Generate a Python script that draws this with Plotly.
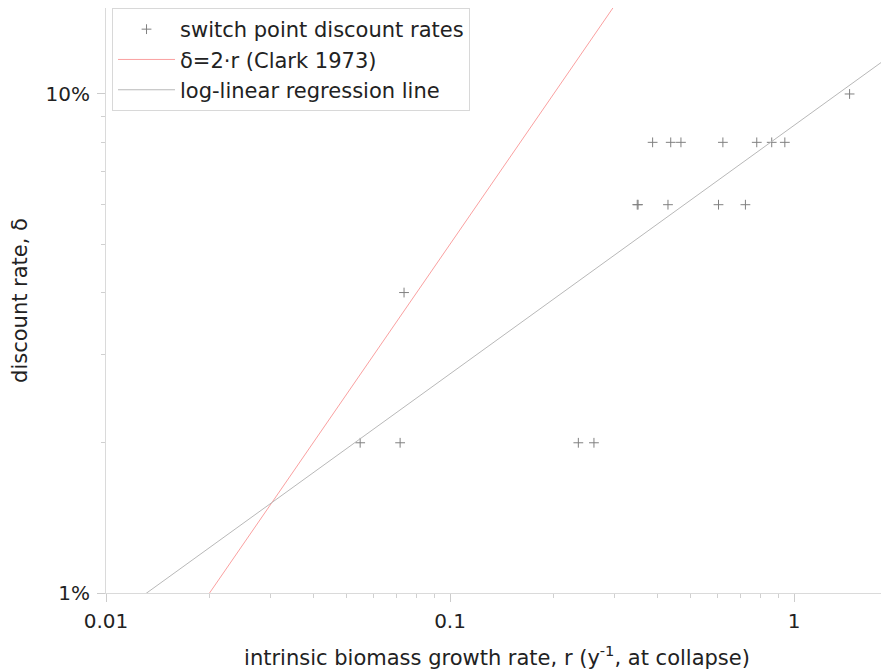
import numpy as np
import plotly.graph_objects as go

# switch point data: intrinsic growth rate r (1/y) and discount rate delta (fraction)
r_values = [0.0548, 0.0716, 0.236, 0.262,
            0.0735,
            0.350, 0.352, 0.430, 0.603, 0.722,
            0.388, 0.438, 0.469, 0.621, 0.779, 0.861, 0.940,
            1.45]
delta_values = [0.02, 0.02, 0.02, 0.02,
                0.04,
                0.06, 0.06, 0.06, 0.06, 0.06,
                0.08, 0.08, 0.08, 0.08, 0.08, 0.08, 0.08,
                0.10]

# line span (clipped by the axes)
r_line = [0.005, 3.0]
clark_factor = 0.5   # as drawn in the figure

x_tick_vals = [0.01, 0.1, 1]
y_tick_vals = [0.01, 0.1]

# log-linear regression
b, a = np.polyfit(np.log10(r_values), np.log10(delta_values), 1)
reg_y = [10 ** (a + b * np.log10(r)) for r in r_line]
clark_y = [clark_factor * r for r in r_line]

FONT = "DejaVu Sans, Liberation Sans, Arial, sans-serif"
TXT = "#222222"
FS = 21
FS_TICK = 20

fig = go.Figure()
fig.add_trace(go.Scatter(
    x=r_values, y=delta_values, mode="markers",
    name="switch point discount rates",
    marker=dict(symbol="cross-thin", size=7, line=dict(width=1, color="#808080"), color="#808080"),
))
fig.add_trace(go.Scatter(
    x=r_line, y=clark_y, mode="lines", name="δ=2·r (Clark 1973)",
    line=dict(color="rgb(250,160,160)", width=1),
))
fig.add_trace(go.Scatter(
    x=r_line, y=reg_y, mode="lines", name="log-linear regression line",
    line=dict(color="#b8b8b8", width=1),
))

axis_common = dict(
    type="log", showgrid=False, zeroline=False, showline=True,
    linecolor="#dadada", linewidth=1, ticks="outside", ticklen=8,
    tickcolor="#cccccc", tickwidth=1, dtick=1,
    tickfont=dict(family=FONT, size=FS_TICK, color=TXT),
    minor=dict(ticks="outside", ticklen=4, tickcolor="#d0d0d0", dtick="D1", showgrid=False),
)

fig.update_xaxes(
    **axis_common,
    range=[-2, 0.273],
    tickvals=x_tick_vals, ticktext=["0.01", "0.1", "1"],
    ticklabelstandoff=2,
    title=dict(text="intrinsic biomass growth rate, r (y<sup>-1</sup>, at collapse)",
               font=dict(family=FONT, size=FS, color=TXT), standoff=18),
)
fig.update_yaxes(
    **axis_common,
    range=[-2, -0.8277],
    tickvals=y_tick_vals, ticktext=["1%", "10%"],
    ticklabelstandoff=3,
    title=dict(text="discount rate, δ", font=dict(family=FONT, size=FS, color=TXT), standoff=19),
)

fig.update_layout(
    width=881, height=663,
    margin=dict(l=98, r=1, t=0, b=78, autoexpand=False),
    paper_bgcolor="white", plot_bgcolor="white",
    font=dict(family=FONT, size=FS, color=TXT),
    legend=dict(
        x=0.0077, y=1.0, xanchor="left", yanchor="top",
        bordercolor="#d8d8d8", borderwidth=1, bgcolor="white",
        font=dict(family=FONT, size=FS, color=TXT),
        itemwidth=57, tracegroupgap=0,
    ),
    showlegend=True,
)

fig.write_html("out.html")
